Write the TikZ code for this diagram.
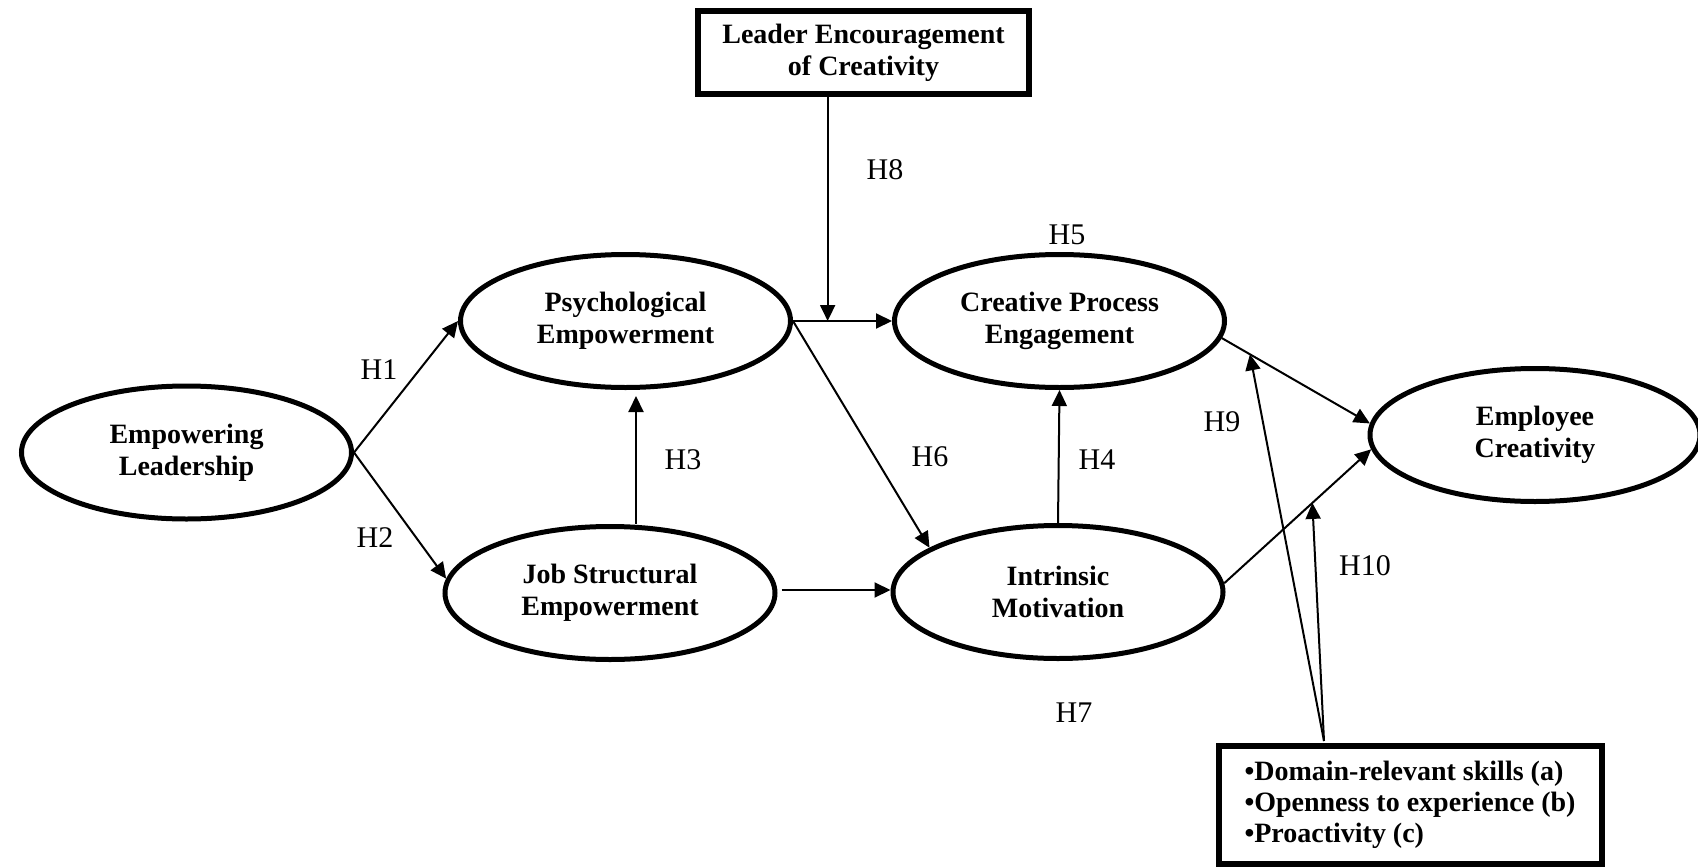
\documentclass[tikz,border=0pt]{standalone}
\usepackage{fontspec}
\setmainfont{Liberation Serif}
\usetikzlibrary{shapes.geometric,arrows.meta,calc}
\begin{document}
\begin{tikzpicture}[x=0.5pt,y=-0.5pt,
  var/.style={ellipse,draw,line width=2.5pt,minimum width=165pt,minimum height=66.5pt,inner sep=0pt,align=center,font=\fontsize{14}{16}\selectfont\bfseries},
  boxnode/.style={rectangle,draw,line width=3pt,inner sep=0pt},
  arr/.style={-{Triangle[length=8pt,width=7.5pt]},line width=1pt},
  lab/.style={font=\fontsize{15}{18}\selectfont,inner sep=0pt}]
\useasboundingbox (0,0) rectangle (1698,867);
% variables
\node[var] (el)  at (186.5,452.5) {Empowering\\Leadership};
\node[var] (pe)  at (625.5,321) {Psychological\\Empowerment};
\node[var] (jse) at (610,593) {Job Structural\\Empowerment};
\node[var] (cpe) at (1059.5,321) {Creative Process\\Engagement};
\node[var] (im)  at (1058,592) {Intrinsic\\Motivation};
\node[var] (ec)  at (1535,435) {Employee\\Creativity};
% boxes
\node[boxnode,minimum width=165.5pt,minimum height=41.5pt,align=center,font=\fontsize{14}{16}\selectfont\bfseries] (lec) at (863.5,52.5) {Leader Encouragement\\of Creativity};
\node[boxnode,minimum width=191.5pt,minimum height=59pt,align=left,font=\fontsize{14}{15.5}\selectfont\bfseries] (mod) at (1410,805) {•Domain-relevant skills (a)\\•Openness to experience (b)\\•Proactivity (c)};
% helper coordinates
\coordinate (h3) at (636,0);
\coordinate (m) at ($(pe.east)!0.35!(cpe.west)$);
\coordinate (bs) at (1324,741);
\coordinate (t9) at ($(cpe.-6)!0.19!(ec.176)$);
\coordinate (t10) at ($(im.3)!0.6!(ec.185)$);
\coordinate (jr) at ($(jse.east)+(4,-3)$);
% connectors
\draw[arr] (el.east) -- (pe.west);
\draw[arr] (el.east) -- (jse.175);
\draw[arr,shorten >=3pt] (jse.north -| h3) -- (pe.south -| h3);
\draw[arr] (pe.east) -- (cpe.west);
\draw[arr] (lec.south -| m) -- (m);
\draw[arr] (pe.east) -- (im.161);
\draw[arr] (jr) -- (jr -| im.west);
\draw[arr] (im.north) -- (cpe.south);
\draw[arr] (cpe.-6) -- (ec.176);
\draw[arr] (im.3) -- (ec.185);
\draw[arr] (bs) -- (t9);
\draw[arr] (bs) -- (t10);
% labels
\node[lab] (l1) at (379,370) {H1};
\node[lab] (l2) at (375,538) {H2};
\node[lab] (l3) at (683,460) {H3};
\node[lab] (l8) at (885,170) {H8};
\node[lab] (l6) at (930,457) {H6};
\node[lab] (l4) at (1097,460) {H4};
\node[lab] (l5) at (1067,235) {H5};
\node[lab] (l9) at (1222,422) {H9};
\node[lab] (l10) at (1365,566) {H10};
\node[lab] (l7) at (1074,713) {H7};
\end{tikzpicture}
\end{document}
